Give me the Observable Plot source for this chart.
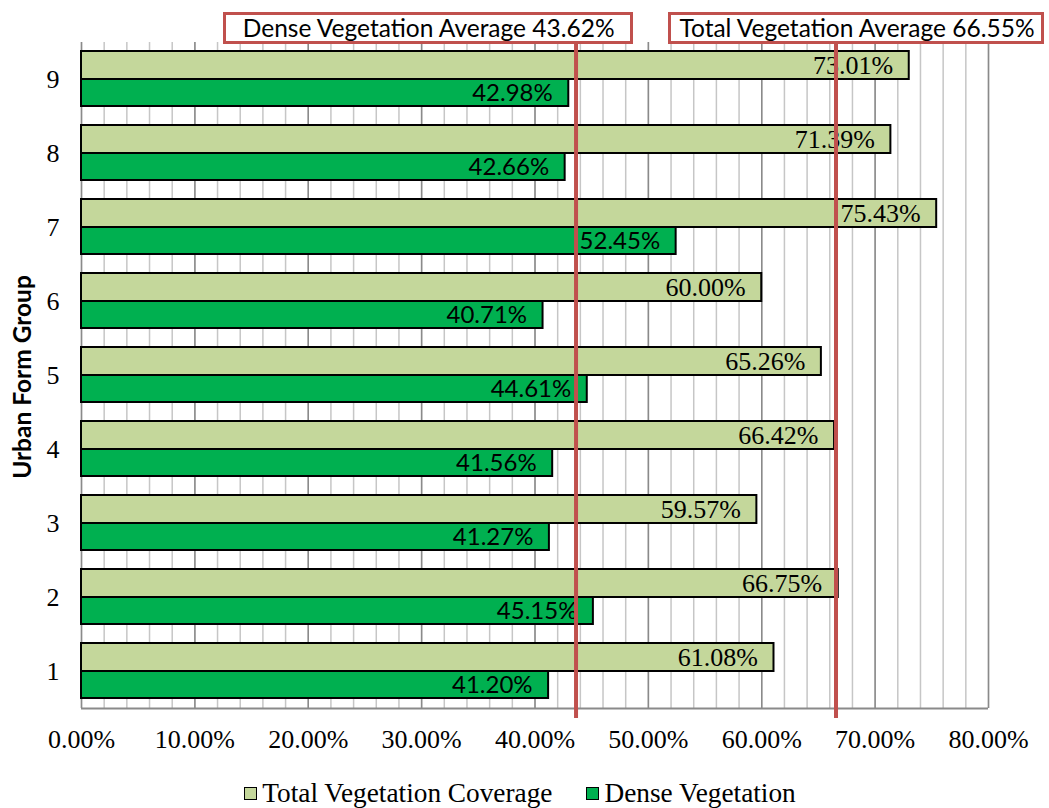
<!DOCTYPE html>
<html>
<head>
<meta charset="utf-8">
<script src="https://cdn.jsdelivr.net/npm/d3@7"></script>
<script src="https://cdn.jsdelivr.net/npm/@observablehq/plot@0.6"></script>
<style>
  html, body { margin: 0; padding: 0; background: white; }
  #wrap { position: relative; width: 1049px; height: 808px; overflow: hidden; }
  .anno { position: absolute; top: 12px; height: 26px; line-height: 26px; border: 3px solid #c0504d; background: white;
          font-family: Lato, "Open Sans", sans-serif; font-size: 24.5px; color: black; white-space: nowrap; box-sizing: content-box; }
  #legend { position: absolute; top: 777px; left: 0; width: 1040px; display: flex; justify-content: center; gap: 34px;
            font-family: "Liberation Serif", "Times New Roman", serif; font-size: 27.3px; line-height: 32px; }
  .item { display: flex; align-items: center; }
  .sw { width: 11px; height: 11px; border: 1.5px solid black; margin-right: 5px; }
  #ytitle { position: absolute; left: 21px; top: 377px; transform: translate(-50%, -50%) rotate(-90deg);
            font-family: Lato, "Open Sans", sans-serif; font-weight: bold; font-size: 24.5px; white-space: nowrap; }
</style>
</head>
<body>
<div id="wrap"></div>
<script>
const groups = ["1", "2", "3", "4", "5", "6", "7", "8", "9"];
const totalCoverage = [61.08, 66.75, 59.57, 66.42, 65.26, 60.00, 75.43, 71.39, 73.01];
const denseVegetation = [41.20, 45.15, 41.27, 41.56, 44.61, 40.71, 52.45, 42.66, 42.98];
const seriesNames = ["Total Vegetation Coverage", "Dense Vegetation"];
const seriesColors = ["#c4d79b", "#00b050"];
const averageNames = ["Dense Vegetation Average", "Total Vegetation Average"];
const averageValues = [43.62, 66.55];
const xTicks = [0, 10, 20, 30, 40, 50, 60, 70, 80];
const yTitle = "Urban Form Group";

const rows = groups.map((g, i) => ({group: g, total: totalCoverage[i], dense: denseVegetation[i]}));
const avgs = averageNames.map((n, i) => ({name: n, value: averageValues[i]}));
const minorGrid = d3.range(0, 81, 2);
const pct = v => v.toFixed(2) + "%";
const serif = "'Liberation Serif', 'Times New Roman', serif";
const sans = "Lato, 'Open Sans', sans-serif";

const chart = Plot.plot({
  width: 1049,
  height: 770,
  marginLeft: 81,
  marginRight: 61,
  marginTop: 42,
  marginBottom: 62,
  style: {fontFamily: serif, fontSize: "26px", color: "black", background: "white", overflow: "visible"},
  x: {domain: [0, 80], ticks: xTicks, tickFormat: pct, tickSize: 0, tickPadding: 21, label: null},
  y: {domain: groups.slice().reverse(), padding: 0, tickSize: 0, tickPadding: 22, label: null},
  marks: [
    Plot.ruleX(minorGrid, {stroke: "#c6c6c6", strokeWidth: 1.5}),
    Plot.ruleX(xTicks, {stroke: "#8a8a8a", strokeWidth: 1.5}),
    Plot.barX(rows, {y: "group", x: "total", fill: seriesColors[0], stroke: "black", strokeWidth: 2, insetTop: 9, insetBottom: 37}),
    Plot.barX(rows, {y: "group", x: "dense", fill: seriesColors[1], stroke: "black", strokeWidth: 2, insetTop: 37, insetBottom: 10}),
    Plot.text(rows, {y: "group", x: "total", text: d => pct(d.total), textAnchor: "end", dx: -16, dy: -14, fontFamily: serif, fontSize: 26}),
    Plot.text(rows, {y: "group", x: "dense", text: d => pct(d.dense), textAnchor: "end", dx: -16, dy: 13.5, fontFamily: sans, fontSize: 24}),
    Plot.ruleY(["1"], {dy: 37, stroke: "#8a8a8a", strokeWidth: 2}),
    Plot.ruleX(avgs, {x: "value", stroke: "#c0504d", strokeWidth: 4, insetBottom: -10})
  ]
});

const wrap = document.getElementById("wrap");
wrap.appendChild(chart);
const xs = chart.scale("x");

// annotation boxes anchored to the average lines
const a0 = document.createElement("div");
a0.className = "anno";
a0.textContent = avgs[0].name + " " + pct(avgs[0].value);
a0.style.padding = "0 15px 0 17px";
a0.style.right = (1049 - (xs.apply(avgs[0].value) + 57)) + "px";
wrap.appendChild(a0);

const a1 = document.createElement("div");
a1.className = "anno";
a1.textContent = avgs[1].name + " " + pct(avgs[1].value);
a1.style.padding = "0 6px 0 9px";
a1.style.left = (xs.apply(avgs[1].value) - 168) + "px";
wrap.appendChild(a1);

const yt = document.createElement("div");
yt.id = "ytitle";
yt.textContent = yTitle;
wrap.appendChild(yt);

const legend = document.createElement("div");
legend.id = "legend";
seriesNames.forEach((n, i) => {
  const it = document.createElement("div");
  it.className = "item";
  const sw = document.createElement("div");
  sw.className = "sw";
  sw.style.background = seriesColors[i];
  const tx = document.createElement("span");
  tx.textContent = n;
  it.appendChild(sw);
  it.appendChild(tx);
  legend.appendChild(it);
});
wrap.appendChild(legend);
</script>
</body>
</html>
